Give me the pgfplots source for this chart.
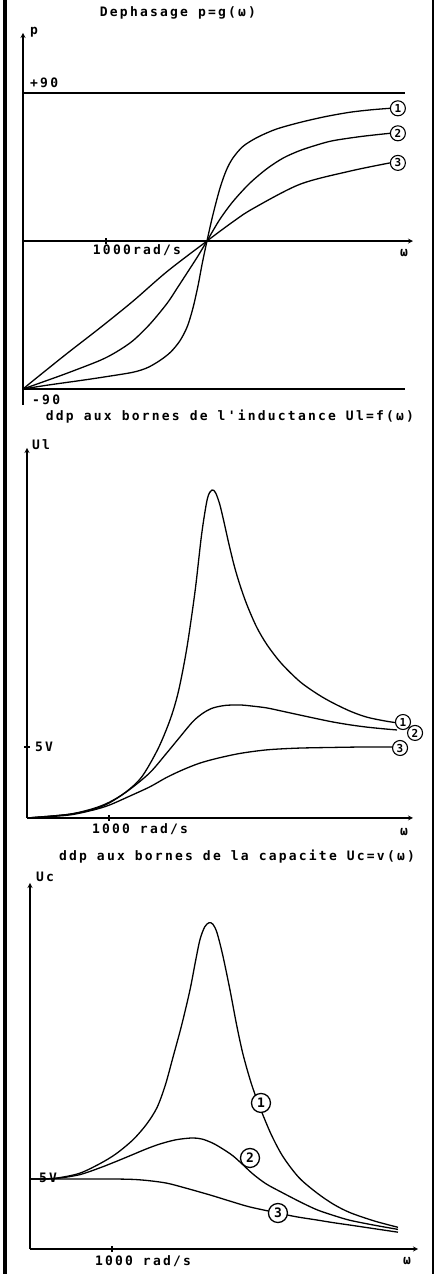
\documentclass[border=0pt]{standalone}
\usepackage{fontspec}
\usepackage{pgfplots}
\pgfplotsset{compat=1.18}
\usetikzlibrary{arrows.meta}
\newfontfamily\plotfont{DejaVu Sans Mono}[LetterSpace=17]
\newfontfamily\numfont{DejaVu Sans Mono}
\pgfplotsset{
  myaxis/.style={scale only axis, clip=false,
    axis line style={line width=1.2pt},
    tick align=inside, major tick length=6pt,
    every tick/.style={black, line width=1.2pt},
    xticklabels={}, yticklabels={},
    x axis line style={-{Triangle[open, length=9pt, width=8pt]}},
    y axis line style={-{Triangle[length=8pt, width=6pt]}}}
}
\tikzset{lab/.style={font=\plotfont\bfseries\fontsize{13}{15}\selectfont, inner sep=0pt},
  cv/.style={black, line width=1.3pt, smooth, tension=0.5, mark=none},
  hl/.style={black, line width=1.2pt, sharp plot, mark=none},
  circlab/.style={circle, draw, fill=white, line width=1.1pt, inner sep=0pt, minimum size=15pt, font=\numfont\bfseries\fontsize{11}{12}\selectfont},
  circlabbig/.style={circle, draw, fill=white, line width=1.3pt, inner sep=0pt, minimum size=19pt, font=\numfont\bfseries\fontsize{13}{14}\selectfont}}
\begin{document}
\begin{tikzpicture}
\useasboundingbox (0pt,0pt) rectangle (437pt,1274pt);
\fill[white] (0pt,0pt) rectangle (437pt,1274pt);
\draw[line width=3.5pt] (5pt,0pt) -- (5pt,1274pt);
\draw[line width=2pt] (433pt,0pt) -- (433pt,1274pt);

% ---------- Panel 1 : phase ----------
\begin{axis}[myaxis, axis lines=middle, at={(23pt,869pt)}, anchor=south west,
  width=390pt, height=372pt, xmin=0, xmax=4700, ymin=-99.7, ymax=126.5,
  xtick={1000}, ytick=\empty]
\addplot[hl] coordinates {(0,90) (4602,90)};
\addplot[hl] coordinates {(0,-90) (4602,-90)};
% curve 1
\addplot[cv] coordinates {(0,-90) (300,-87.6) (723,-84.6) (1000,-82.5) (1325,-79.8) (1500,-77) (1651,-72.6) (1780,-67.5) (1892,-60.6) (1980,-52) (2048,-40.8) (2110,-27) (2157,-14.4) (2217,0) (2289,16) (2373,32) (2450,43) (2530,50.5) (2650,57.5) (2819,62.9) (3050,68) (3337,72.1) (3640,75.6) (3940,78.3) (4200,79.8) (4422,80.7)};
% curve 2
\addplot[cv] coordinates {(0,-90) (250,-85.5) (530,-80.4) (928,-72.6) (1130,-67.3) (1325,-60.6) (1530,-50.5) (1735,-38) (1860,-28.5) (1976,-19.5) (2100,-9.8) (2217,0) (2370,13) (2530,24) (2730,35) (2940,44) (3137,50.5) (3337,55) (3535,58.3) (3735,61) (4080,63.6) (4422,65.5)};
% curve 3
\addplot[cv] coordinates {(0,-90) (120,-85) (530,-68.4) (928,-52.8) (1325,-36.6) (1735,-18.6) (2217,0) (2530,11.7) (2771,19.7) (3337,34.5) (3940,42.5) (4422,47.5)};
\node[circlab] at (axis cs:4518,80.7) {1};
\node[circlab] at (axis cs:4518,65.5) {2};
\node[circlab] at (axis cs:4518,47.5) {3};
\end{axis}

% ---------- Panel 2 : UL ----------
\begin{axis}[myaxis, axis lines=left, at={(27pt,456pt)}, anchor=south west,
  width=386pt, height=370pt, xmin=0, xmax=4707, ymin=0, ymax=26.06,
  xtick={1000}, ytick={5}]
\addplot[cv] coordinates {(0,0) (500,0.25) (800,0.65) (1000,1.1) (1200,1.8) (1400,2.9) (1600,4.9) (1750,7.0) (1850,9.0) (1950,12.0) (2050,16.0) (2130,20.0) (2200,22.5) (2256,23.1) (2300,22.9) (2350,22.1) (2400,20.9) (2460,19.35) (2530,17.7) (2600,16.35) (2683,15.0) (2800,13.45) (2927,12.2) (3100,10.9) (3329,9.6) (3550,8.7) (3732,8.1) (3950,7.5) (4146,7.1) (4350,6.85) (4512,6.7)};
\addplot[cv] coordinates {(0,0) (500,0.25) (800,0.6) (1000,1.05) (1250,2.0) (1500,3.2) (1700,4.55) (1850,5.6) (2024,6.8) (2150,7.4) (2268,7.75) (2420,7.93) (2598,7.96) (2750,7.88) (2927,7.75) (3130,7.5) (3329,7.25) (3530,7.0) (3732,6.76) (3950,6.55) (4146,6.4) (4350,6.28) (4512,6.2)};
\addplot[cv] coordinates {(0,0) (500,0.2) (800,0.55) (1000,0.9) (1256,1.55) (1500,2.2) (1700,2.85) (1902,3.4) (2100,3.85) (2317,4.2) (2600,4.55) (2927,4.8) (3300,4.92) (3732,4.97) (4100,5.0) (4512,5.0)};
\node[circlab] at (axis cs:4585,6.76) {1};
\node[circlab] at (axis cs:4732,5.99) {2};
\node[circlab] at (axis cs:4549,4.93) {3};
\end{axis}

% ---------- Panel 3 : UC ----------
\begin{axis}[myaxis, axis lines=left, at={(30pt,25pt)}, anchor=south west,
  width=388pt, height=366pt, xmin=0, xmax=4732, ymin=0, ymax=26.14,
  xtick={1000}, ytick=\empty]
\addplot[cv] coordinates {(0,5.0) (300,5.05) (600,5.4) (854,6.1) (1050,6.8) (1256,7.8) (1420,8.9) (1549,10.1) (1650,11.7) (1744,13.7) (1850,16.0) (1951,18.5) (2020,20.6) (2073,22.1) (2130,23.0) (2183,23.3) (2230,23.2) (2280,22.6) (2350,21.0) (2439,18.5) (2520,16.0) (2598,13.9) (2700,11.8) (2805,10.1) (2940,8.2) (3085,6.6) (3280,5.1) (3500,4.0) (3700,3.2) (3902,2.6) (4200,2.0) (4488,1.55)};
\addplot[cv] coordinates {(0,5.0) (300,5.03) (600,5.3) (854,5.8) (1050,6.25) (1256,6.75) (1420,7.15) (1585,7.5) (1780,7.8) (1976,7.93) (2100,7.85) (2232,7.55) (2350,7.15) (2476,6.65) (2600,6.0) (2720,5.35) (2880,4.65) (3085,4.0) (3300,3.35) (3500,2.8) (3700,2.4) (3902,2.05) (4200,1.7) (4488,1.4)};
\addplot[cv] coordinates {(0,5.0) (600,5.0) (1000,5.0) (1256,4.97) (1450,4.88) (1671,4.7) (1900,4.35) (2195,3.86) (2450,3.4) (2683,3.0) (3024,2.57) (3250,2.3) (3500,2.07) (3700,1.88) (3902,1.71) (4200,1.45) (4488,1.2)};
\node[circlabbig] at (axis cs:2817,10.43) {1};
\node[circlabbig] at (axis cs:2683,6.5) {2};
\node[circlabbig] at (axis cs:3024,2.57) {3};
\end{axis}

% ---------- Texts ----------
\node[lab] at (178pt,1261pt) {Dephasage p=g(ω)};
\node[lab, anchor=west] at (30pt,1242pt) {p};
\node[lab, anchor=west] at (30pt,1191pt) {+90};
\node[lab] at (137pt,1024pt) {1000rad/s};
\node[lab] at (404pt,1021pt) {ω};
\node[lab, anchor=west] at (32pt,874pt) {-90};
\node[lab] at (230pt,857pt) {ddp aux bornes de l'inductance Ul=f(ω)};
\node[lab, anchor=west] at (32pt,829pt) {Ul};
\node[lab, anchor=west] at (35pt,527pt) {5V};
\node[lab] at (140pt,445pt) {1000 rad/s};
\node[lab] at (404pt,442pt) {ω};
\node[lab] at (237pt,417pt) {ddp aux bornes de la capacite Uc=v(ω)};
\node[lab, anchor=west] at (36pt,397pt) {Uc};
\node[lab, anchor=west] at (39pt,96pt) {5V};
\node[lab] at (143pt,13pt) {1000 rad/s};
\node[lab] at (407pt,13pt) {ω};
\end{tikzpicture}
\end{document}
